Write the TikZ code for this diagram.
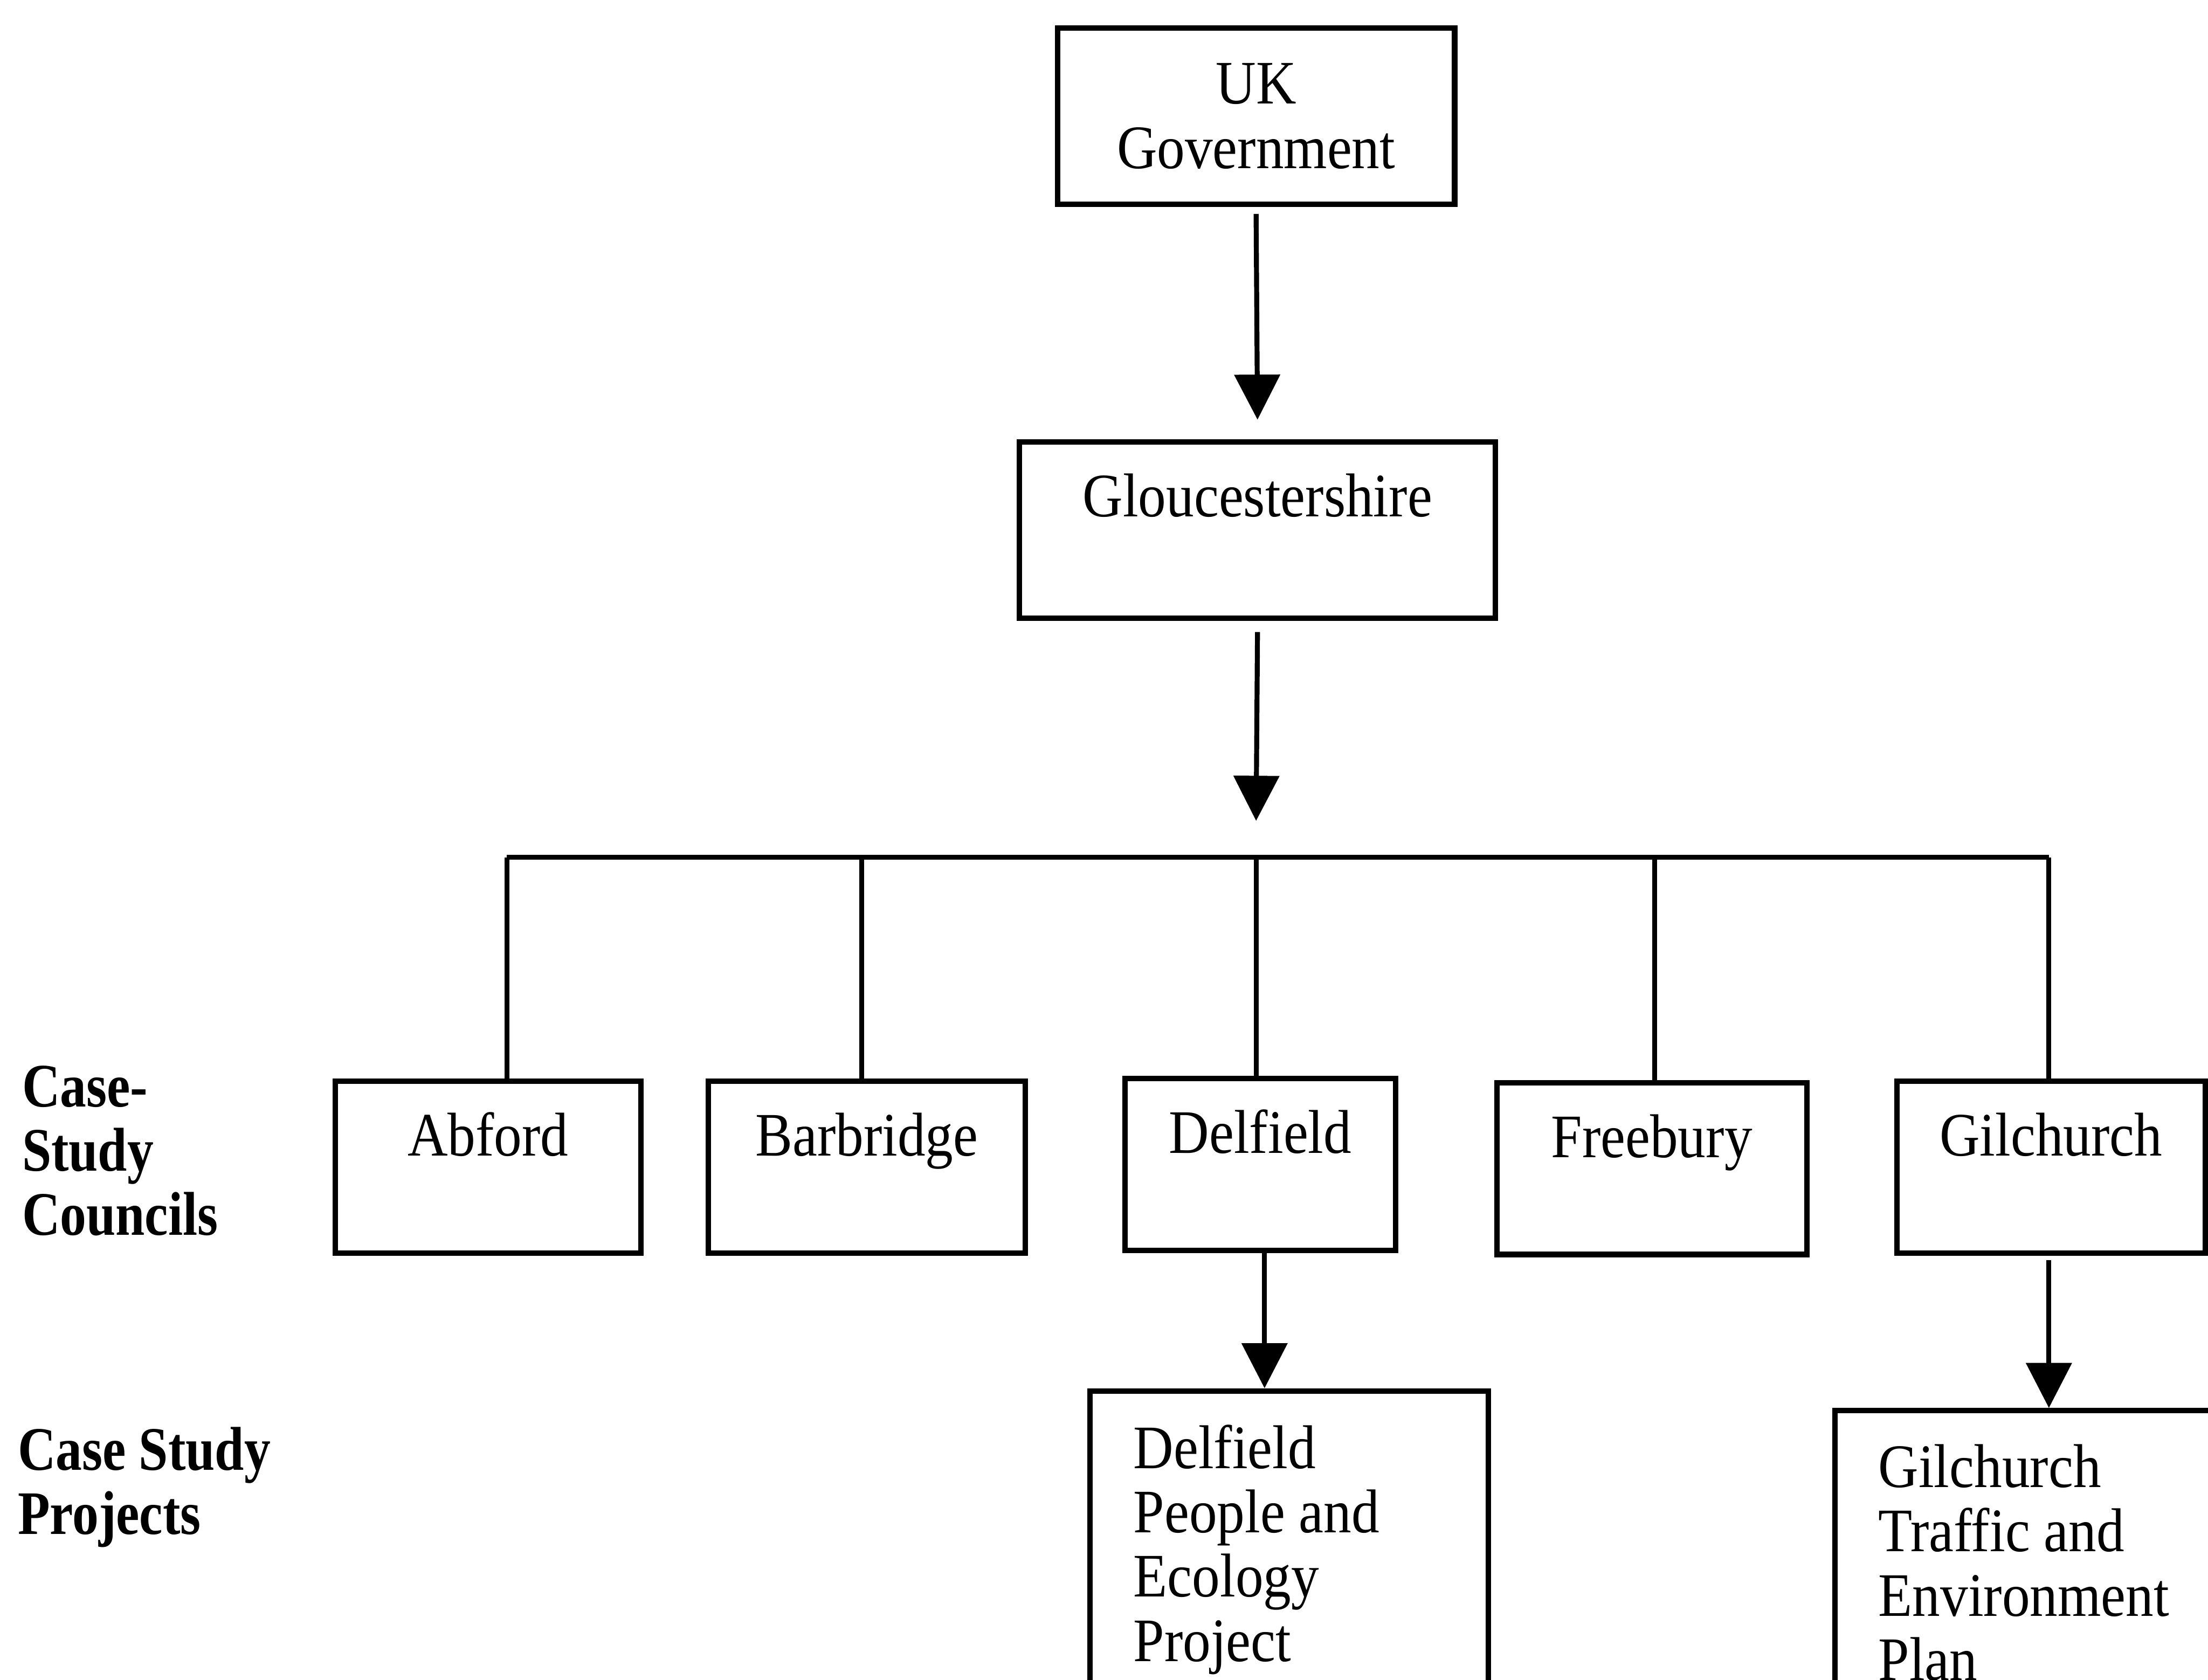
\documentclass[tikz,border=0pt]{standalone}
\usepackage{fontspec}
\setmainfont{Liberation Serif}[FakeStretch=0.9]
\newfontfamily\tierfont{Liberation Serif}[FakeStretch=0.85]
\usetikzlibrary{arrows.meta}

\begin{document}
\begin{tikzpicture}[
        govbox/.style={rectangle, draw=black, line width=1.1pt, minimum width=2.82cm, minimum height=1.25cm, align=center, inner sep=0pt},
        council/.style={rectangle, draw=black, line width=1.1pt, inner ysep=0pt, text height=0.53cm, text depth=0.69cm},
        project/.style={rectangle, draw=black, line width=1.1pt, anchor=north west, inner xsep=0.31cm, inner ysep=0.24cm},
        tier/.style={anchor=base west, inner sep=0pt, font=\fontsize{12.5pt}{13pt}\tierfont\bfseries},
        link/.style={line width=1pt},
        arrow/.style={-{Triangle[width=0.32cm, length=0.32cm]}, line width=1pt},
        font=\fontsize{12.5pt}{13pt}\selectfont
    ]
    \useasboundingbox (0,0) rectangle (15.68,-11.93);
    \clip (0,0) rectangle (15.68,-11.93);

    % Top of the hierarchy
    \node[govbox] (ukgov) at (8.92,-0.825) {UK\\Government};
    \node[council, minimum width=3.38cm, text depth=0.72cm] (glouc) at (8.93,-3.765) {Gloucestershire};
    \coordinate (hub) at (8.92,-6.09);
    \draw[arrow] ([yshift=-0.05cm]ukgov.south) -- ([yshift=0.14cm]glouc.north);
    \draw[arrow] ([yshift=-0.08cm]glouc.south) -- ([yshift=0.26cm]hub);

    % Case-study councils
    \node[council, minimum width=2.17cm] (abford) at (3.465,-8.29) {Abford};
    \node[council, minimum width=2.25cm] (barbridge) at (6.155,-8.29) {Barbridge};
    \node[council, minimum width=1.92cm] (delfield) at (8.95,-8.27) {Delfield};
    \node[council, minimum width=2.20cm] (freebury) at (11.73,-8.30) {Freebury};
    \node[council, minimum width=2.19cm] (gilchurch) at (14.565,-8.29) {Gilchurch};

    \foreach \xpos/\council in {3.60/abford, 6.12/barbridge, 8.92/delfield, 11.75/freebury, 14.55/gilchurch} {
        \coordinate (drop-\council) at (\xpos,-6.09);
        \draw[link] (drop-\council) -- (drop-\council |- \council.north);
    }
    \draw[link] (drop-abford) -- (drop-gilchurch);

    % Case-study projects
    \node[project] (delproj) at (7.72,-9.86) {\parbox[t][1.85cm][t]{2.21cm}{\raggedright Delfield\\People and\\Ecology\\Project}};
    \node[project] (gilproj) at (13.01,-10.00) {\parbox[t][1.85cm][t]{2.16cm}{\raggedright Gilchurch\\Traffic and\\Environment\\Plan}};
    \coordinate (delfork) at ([xshift=0.03cm]delfield.south);
    \draw[arrow] (delfork) -- (delfork |- delproj.north);
    \coordinate (gilfork) at ([xshift=-0.015cm,yshift=-0.03cm]gilchurch.south);
    \draw[arrow] (gilfork) -- (gilfork |- gilproj.north);

    % Row labels
    \node[tier] (councillabel) at (0.15,-7.86) {\parbox[t]{2.5cm}{\raggedright Case-\\Study\\Councils}};
    \node[tier] (projectlabel) at (0.12,-10.44) {\parbox[t]{2.5cm}{\raggedright Case Study\\Projects}};
\end{tikzpicture}
\end{document}
